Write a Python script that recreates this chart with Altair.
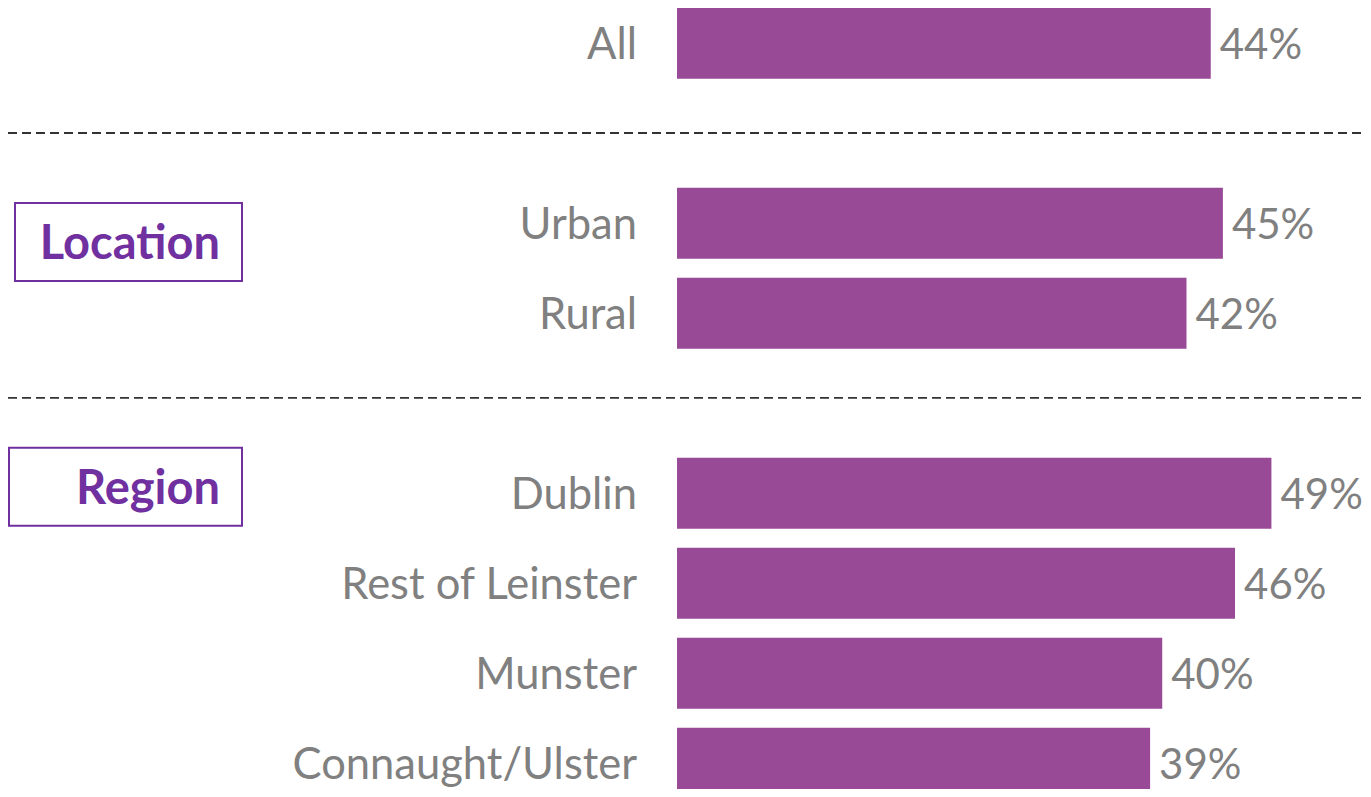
import altair as alt
import pandas as pd

categories = ["All", "Urban", "Rural", "Dublin", "Rest of Leinster", "Munster", "Connaught/Ulster"]
values = [44, 45, 42, 49, 46, 40, 39]
rows = [0, 2, 3, 5, 6, 7, 8]

separator_rows = [0.998, 3.94]
group_names = ["Location", "Region"]
group_top = [1.777, 4.495]
group_bottom = [2.643, 5.361]

bars_df = pd.DataFrame({"category": categories, "value": values, "row": rows})
sep_df = pd.DataFrame({"row": separator_rows})
loc_df = pd.DataFrame({"name": group_names[:1], "top": group_top[:1], "bottom": group_bottom[:1]})
reg_df = pd.DataFrame({"name": group_names[1:], "top": group_top[1:], "bottom": group_bottom[1:]})

FONT = "Lato"
BAR = "#984a97"
GRAY = "#808080"
PURPLE = "#7030a0"

W, H = 1355, 781
xs = alt.Scale(domain=[-55.15, 56.55], nice=False, zero=False)
ys = alt.Scale(domain=[-0.391, 8.287], nice=False, zero=False, reverse=True)

base = alt.Chart(bars_df).transform_calculate(
    start="0", y0="datum.row - 0.394", y1="datum.row + 0.394", label="datum.value + '%'"
)

bars = base.mark_rect(color=BAR).encode(
    x=alt.X("start:Q", scale=xs, axis=None),
    x2="value:Q",
    y=alt.Y("y0:Q", scale=ys, axis=None),
    y2="y1:Q",
)

cat_text = base.mark_text(align="right", baseline="middle", dx=-40, dy=3, font=FONT, fontSize=43.5, color=GRAY).encode(
    x=alt.X("start:Q", scale=xs, axis=None),
    y=alt.Y("row:Q", scale=ys, axis=None),
    text="category:N",
)

val_text = base.mark_text(align="left", baseline="middle", dx=9, dy=3, font=FONT, fontSize=42, color=GRAY).encode(
    x=alt.X("value:Q", scale=xs, axis=None),
    y=alt.Y("row:Q", scale=ys, axis=None),
    text="label:N",
)

seps = alt.Chart(sep_df).mark_rule(color="#333333", strokeWidth=1.8, strokeDash=[9, 5]).encode(
    x=alt.value(0), x2=alt.value(W),
    y=alt.Y("row:Q", scale=ys, axis=None),
)


def group_box(df, left):
    box = alt.Chart(df).mark_rect(fill="white", stroke=PURPLE, strokeWidth=2).encode(
        x=alt.value(left), x2=alt.value(234),
        y=alt.Y("top:Q", scale=ys, axis=None),
        y2="bottom:Q",
    )
    txt = alt.Chart(df).transform_calculate(mid="(datum.top + datum.bottom) / 2").mark_text(
        align="right", baseline="middle", dy=3, font=FONT, fontSize=47, fontWeight="bold", color=PURPLE
    ).encode(
        x=alt.value(212),
        y=alt.Y("mid:Q", scale=ys, axis=None),
        text="name:N",
    )
    return box + txt


chart = alt.layer(seps, group_box(loc_df, 7), group_box(reg_df, 1), bars, cat_text, val_text).properties(
    width=W, height=H, padding=0, autosize=alt.AutoSizeParams(type="none")
).configure_view(stroke=None)

chart.save("out.html", embed_options={"renderer": "svg", "actions": False})
